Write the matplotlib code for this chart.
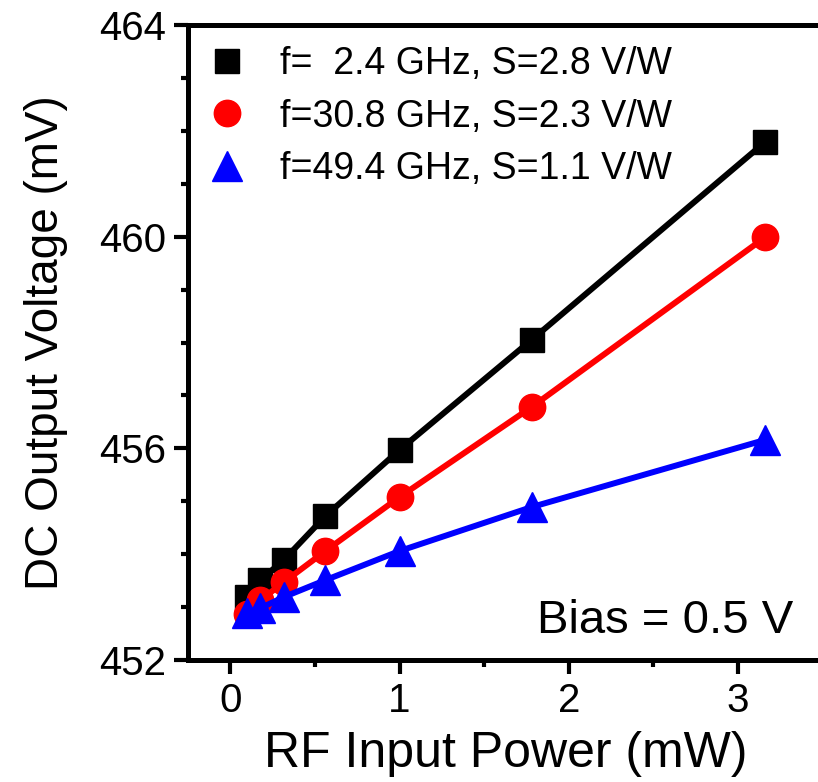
import matplotlib as mpl
mpl.use('Agg')
import matplotlib.pyplot as plt
from matplotlib.lines import Line2D
from matplotlib.ticker import MultipleLocator

plt.rcParams['font.family'] = ['Liberation Sans', 'DejaVu Sans']

# RF input power (mW): -10 ... +5 dBm in 2.5 dB steps
power = [0.1, 0.178, 0.316, 0.562, 1.0, 1.78, 3.16]

v_24 = [453.20, 453.51, 453.89, 454.72, 455.97, 458.05, 461.79]
v_308 = [452.87, 453.13, 453.47, 454.06, 455.08, 456.78, 459.99]
v_494 = [452.89, 452.98, 453.19, 453.51, 454.06, 454.89, 456.16]

labels = ['f=  2.4 GHz, S=2.8 V/W',
          'f=30.8 GHz, S=2.3 V/W',
          'f=49.4 GHz, S=1.1 V/W']
colors = ['black', 'red', 'blue']
markers = ['s', 'o', '^']
msizes = [17, 19, 21]

fig = plt.figure(figsize=(8.18, 7.82), dpi=100)
ax = fig.add_axes([0.2298, 0.156, 0.776, 0.812])

handles = []
for vals, c, m, ms, lab in zip([v_24, v_308, v_494], colors, markers, msizes, labels):
    ax.plot(power, vals, color=c, lw=4.3, marker=m, ms=ms, mec=c, mfc=c,
            clip_on=False)
    handles.append(Line2D([], [], ls='none', marker=m, ms=ms, color=c, label=lab))

ax.set_xlim(-0.25, 3.5)
ax.set_ylim(452, 464)
ax.xaxis.set_major_locator(MultipleLocator(1))
ax.xaxis.set_minor_locator(MultipleLocator(0.5))
ax.yaxis.set_major_locator(MultipleLocator(4))
ax.yaxis.set_minor_locator(MultipleLocator(1))

for s in ax.spines.values():
    s.set_linewidth(3.6)
ax.tick_params(which='major', direction='out', length=10, width=3,
               labelsize=29, pad=6)
ax.tick_params(which='minor', direction='out', length=5, width=3)
ax.tick_params(top=False, right=False, which='both')

ax.set_xlabel('RF Input Power (mW)', fontsize=36, labelpad=8)
ax.set_ylabel('DC Output Voltage (mV)', fontsize=33, labelpad=22)

ax.legend(handles=handles, loc='upper left', frameon=False, fontsize=27,
          handlelength=1.0, handletextpad=0.9, labelspacing=0.45,
          borderaxespad=0, borderpad=0.55)

ax.text(0.953, 0.0425, 'Bias = 0.5 V', transform=ax.transAxes,
        ha='right', va='baseline', fontsize=34)

plt.savefig('out.png', dpi=100)
plt.close()
